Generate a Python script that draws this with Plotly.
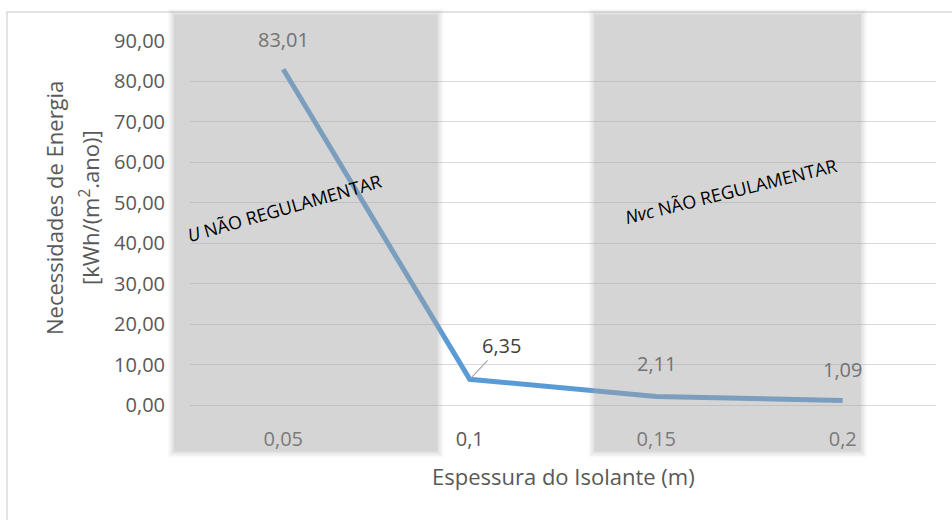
import plotly.graph_objects as go

espessura = ["0,05", "0,1", "0,15", "0,2"]
necessidades = [83.01, 6.35, 2.11, 1.09]
rotulos = ["83,01", "6,35", "2,11", "1,09"]
y_ticks = [0, 10, 20, 30, 40, 50, 60, 70, 80, 90]
y_ticktext = ["0,00", "10,00", "20,00", "30,00", "40,00", "50,00", "60,00", "70,00", "80,00", "90,00"]

# shaded zones, in category-index units
zona_u = (-0.595, 0.83)
zona_nvc = (1.66, 3.10)

W, H = 952, 520
ML, MR, MT, MB = 190, 16, 41, 115
PW, PH = W - ML - MR, H - MT - MB

idx = list(range(len(espessura)))
n = len(espessura)


def to_paper(v):
    return (v + 0.5) / n


def px_x(p):  # screen pixel -> paper x
    return (p - ML) / PW


def px_y(p):  # screen pixel -> paper y
    return (H - MB - p) / PH


fig = go.Figure()
fig.add_trace(go.Scatter(
    x=idx, y=necessidades, mode="lines",
    line=dict(color="#5b9bd5", width=5),
    hoverinfo="skip", showlegend=False,
))

font = "Open Sans, Liberation Sans, sans-serif"

shapes = []
# outer chart border (open on the right and bottom, as in the reference)
shapes.append(dict(type="rect", xref="paper", yref="paper",
                   x0=px_x(7), x1=px_x(960), y0=px_y(530), y1=px_y(12),
                   line=dict(color="#d9d9d9", width=1.5), fillcolor="rgba(0,0,0,0)",
                   layer="below"))

# soft-edged translucent grey zones
layers = [(4.5, 0.06), (3.0, 0.08), (1.5, 0.10), (0.0, 0.12), (-1.5, 0.20)]
for z in (zona_u, zona_nvc):
    x0, x1 = to_paper(z[0]), to_paper(z[1])
    y_top, y_bot = px_y(13), px_y(452)
    for grow, alpha in layers:
        gx, gy = grow / PW, grow / PH
        shapes.append(dict(type="rect", xref="paper", yref="paper",
                           x0=x0 - gx, x1=x1 + gx + 1 / PW, y0=y_bot - gy - 1 / PH, y1=y_top + gy,
                           line=dict(width=0), fillcolor=f"rgba(166,164,166,{alpha})",
                           layer="above"))

annotations = []
label_cfg = [
    dict(yshift=30, color="#737373", arrow=False),
    dict(ax=32, ay=-34, color="#404040", arrow=True),
    dict(yshift=33, color="#737373", arrow=False),
    dict(yshift=31, color="#737373", arrow=False),
]
for i, (v, t, c) in enumerate(zip(necessidades, rotulos, label_cfg)):
    a = dict(x=idx[i], y=v, xref="x", yref="y", text=t,
             font=dict(family=font, size=20, color=c["color"]))
    if c["arrow"]:
        a.update(showarrow=True, ax=c["ax"], ay=c["ay"], arrowhead=0,
                 arrowwidth=1.2, arrowcolor="#a6a6a6", standoff=2)
    else:
        a.update(showarrow=False, yshift=c["yshift"])
    annotations.append(a)

annotations.append(dict(xref="paper", yref="paper", x=px_x(284), y=px_y(208),
                        xanchor="center", yanchor="middle",
                        text="<i>U</i> NÃO REGULAMENTAR", showarrow=False, textangle=-16,
                        font=dict(family=font, size=18, color="#000000")))
annotations.append(dict(xref="paper", yref="paper", x=px_x(731), y=px_y(191),
                        xanchor="center", yanchor="middle",
                        text="<i>Nvc</i> NÃO REGULAMENTAR", showarrow=False, textangle=-14,
                        font=dict(family=font, size=18, color="#000000")))

# axis titles
annotations.append(dict(xref="paper", yref="paper", x=px_x(563), y=px_y(476),
                        xanchor="center", yanchor="middle", showarrow=False,
                        text="Espessura do Isolante (m)",
                        font=dict(family=font, size=22, color="#595959")))
annotations.append(dict(xref="paper", yref="paper", x=px_x(54), y=px_y(208),
                        xanchor="center", yanchor="middle", showarrow=False, textangle=-90,
                        text="Necessidades de Energia",
                        font=dict(family=font, size=22, color="#595959")))
annotations.append(dict(xref="paper", yref="paper", x=px_x(89), y=px_y(208),
                        xanchor="center", yanchor="middle", showarrow=False, textangle=-90,
                        text="[kWh/(m<sup>2</sup>.ano)]",
                        font=dict(family=font, size=22, color="#595959")))

fig.update_layout(
    width=W, height=H,
    margin=dict(l=ML, r=MR, t=MT, b=MB),
    paper_bgcolor="white", plot_bgcolor="white",
    font=dict(family=font, color="#595959"),
    shapes=shapes, annotations=annotations,
    xaxis=dict(
        range=[-0.5, 3.5], tickvals=idx, ticktext=espessura,
        showgrid=False, zeroline=False, showline=False,
        tickfont=dict(size=20, color="#595959"), ticks="",
        ticklabelstandoff=20,
    ),
    yaxis=dict(
        range=[0, 90], tickvals=y_ticks, ticktext=y_ticktext,
        showgrid=True, gridcolor="#d9d9d9", gridwidth=1.2,
        zeroline=True, zerolinecolor="#d9d9d9", zerolinewidth=1.2,
        showline=False, ticks="",
        tickfont=dict(size=20, color="#595959"),
        ticklabelstandoff=24,
    ),
)

fig.write_html("out.html", config={"displayModeBar": False},
               post_script="document.body.style.margin='0px';document.body.style.overflow='hidden';")
